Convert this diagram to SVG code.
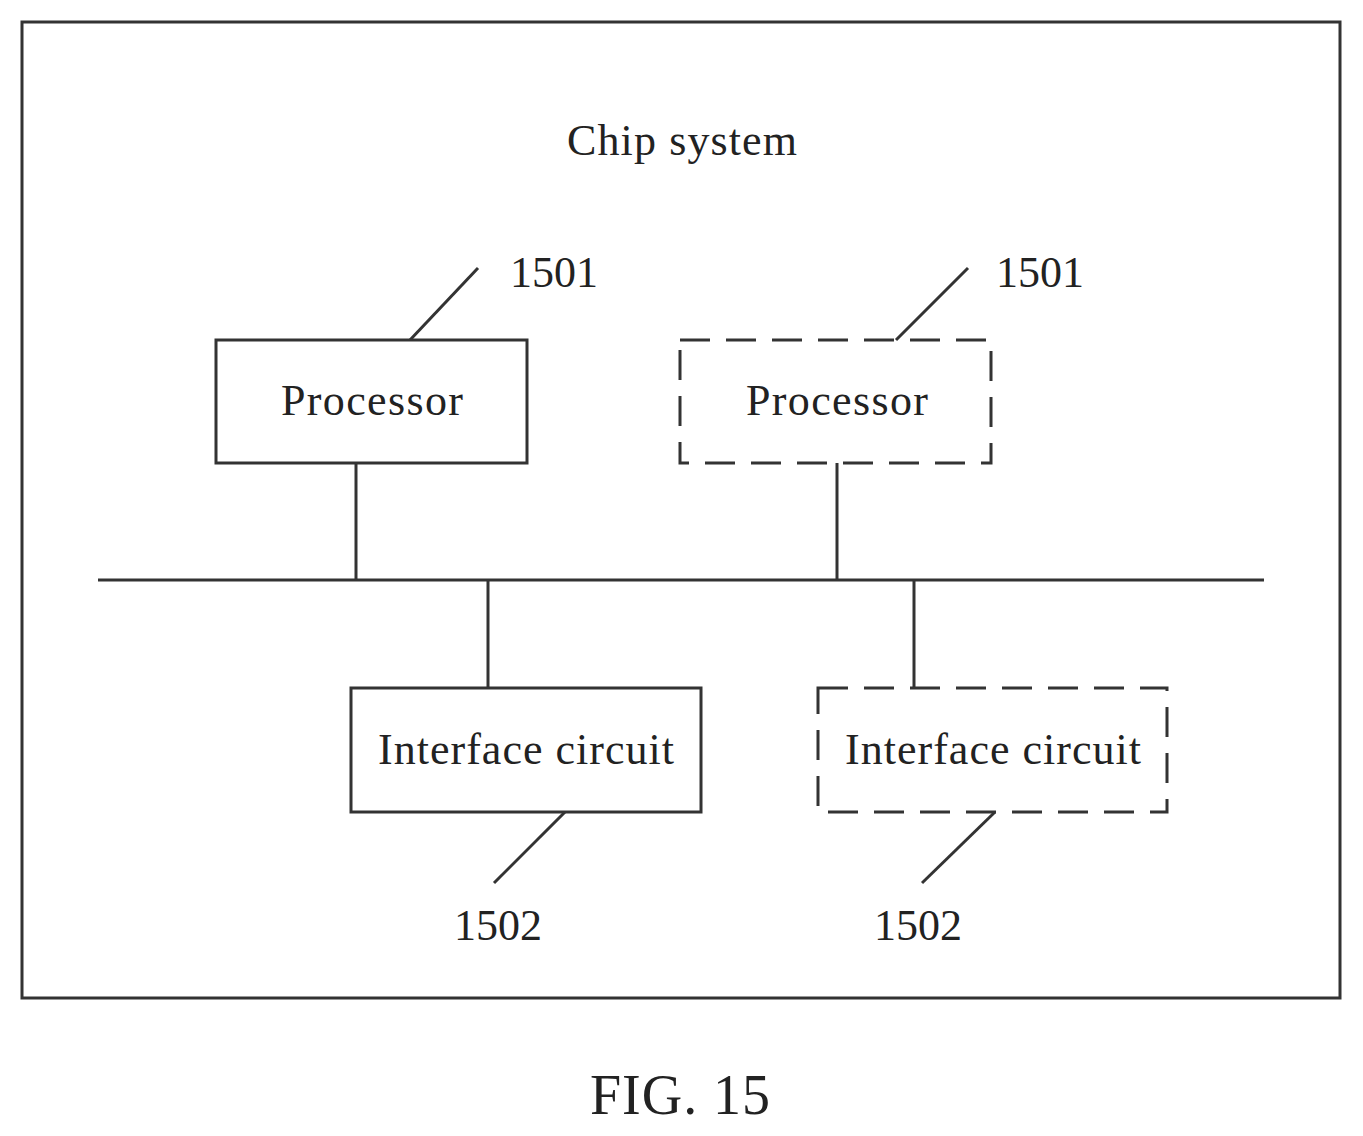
<svg xmlns="http://www.w3.org/2000/svg" width="1363" height="1136" viewBox="0 0 1363 1136">
<style>
.s{fill:none;stroke:#333;stroke-width:3}
.d{fill:none;stroke:#333;stroke-width:3;stroke-dasharray:30,16}
text{font-family:"Liberation Serif",serif;fill:#222;font-size:44px}
</style>
<rect width="1363" height="1136" fill="#fff"/>
<rect class="s" x="22" y="22" width="1318" height="976"/>
<text x="682" y="155" text-anchor="middle" textLength="230">Chip system</text>
<g id="connectors">
<line class="s" x1="98" y1="580" x2="1264" y2="580"/>
<line class="s" x1="356" y1="463" x2="356" y2="580"/>
<line class="s" x1="837" y1="463" x2="837" y2="580"/>
<line class="s" x1="488" y1="580" x2="488" y2="688"/>
<line class="s" x1="914" y1="580" x2="914" y2="688"/>
<line class="s" x1="410" y1="340" x2="478" y2="268"/>
<line class="s" x1="896" y1="340" x2="968" y2="268"/>
<line class="s" x1="565" y1="812" x2="494" y2="883"/>
<line class="s" x1="995" y1="812" x2="922" y2="883"/>
</g>
<g id="p1"><rect class="s" x="216" y="340" width="311" height="123"/><text x="372" y="415" text-anchor="middle" textLength="182">Processor</text><text x="510" y="287">1501</text></g>
<g id="p2"><rect class="d" x="680" y="340" width="311" height="123"/><text x="837" y="415" text-anchor="middle" textLength="182">Processor</text><text x="996" y="287">1501</text></g>
<g id="i1"><rect class="s" x="351" y="688" width="350" height="124"/><text x="526" y="764" text-anchor="middle" textLength="296">Interface circuit</text><text x="454" y="940">1502</text></g>
<g id="i2"><rect class="d" x="818" y="688" width="349" height="124"/><text x="993" y="764" text-anchor="middle" textLength="296">Interface circuit</text><text x="874" y="940">1502</text></g>
<text x="680" y="1114" text-anchor="middle" style="font-size:56px" textLength="180">FIG. 15</text>
</svg>
